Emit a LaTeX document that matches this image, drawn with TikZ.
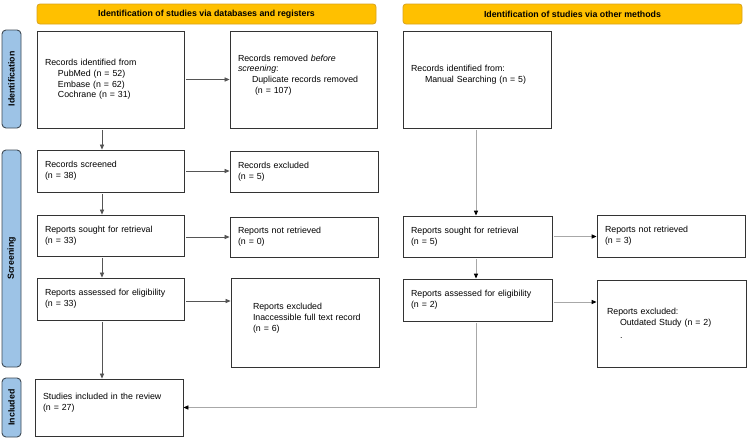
\documentclass[tikz,border=0pt]{standalone}
\usepackage{fontspec}
\setmainfont{Liberation Sans}
\usetikzlibrary{arrows.meta}
\definecolor{hdr}{HTML}{FFC000}
\definecolor{hdrb}{HTML}{D9A21B}
\definecolor{side}{HTML}{9DC3E6}
\definecolor{sideb}{HTML}{3F4A55}
\definecolor{boxb}{HTML}{333333}
\definecolor{lineA}{HTML}{555555}
\definecolor{lineB}{HTML}{A8A8A8}
\begin{document}
\begin{tikzpicture}[x=1pt,y=-1pt,
  font=\fontsize{8.8}{10.7}\selectfont,
  pbox/.style={draw=boxb, line width=0.9pt, fill=white, inner xsep=8pt, inner ysep=0pt, align=left, anchor=center},
  hdrbox/.style={draw=hdrb, line width=0.8pt, fill=hdr, rounded corners=3pt, font=\fontsize{8.8}{10.7}\selectfont\bfseries, inner sep=0pt, minimum width=339pt, minimum height=20pt},
  sidebox/.style={draw=sideb, line width=0.9pt, fill=side, rounded corners=4pt, font=\fontsize{8.8}{10.7}\selectfont\bfseries, inner sep=0pt, rotate=90, minimum height=19pt},
  arrA/.style={draw=lineA, line width=0.7pt, -{Triangle[length=5pt,width=4.2pt]}, shorten <=1.5pt},
  arrB/.style={draw=lineB, line width=0.9pt, -{Triangle[length=5pt,width=4.2pt,color=black,fill=black]}, shorten <=1.5pt}
]
\useasboundingbox (0,0) rectangle (750,439);
\fill[white] (0,0) rectangle (750,439);

% headers
\node[hdrbox] (HL) at (206.5,14) {Identification of studies via databases and registers};
\node[hdrbox] (HR) at (572.5,14) {Identification of studies via other methods};

% side bars
\node[sidebox, minimum width=98pt] (S1) at (11.5,79) {Identification};
\node[sidebox, minimum width=217pt] (S2) at (11.5,258.5) {Screening};
\node[sidebox, minimum width=59pt] (S3) at (11.5,407.5) {Included};

% left column
\node[pbox, minimum width=147pt, minimum height=97pt, text width=131pt] (A) at (110.5,79.5)
  {Records identified from\\\hspace*{13pt}PubMed (n = 52)\\\hspace*{13pt}Embase (n = 62)\\\hspace*{13pt}Cochrane (n = 31)};
\node[pbox, minimum width=147pt, minimum height=97pt, text width=131pt] (B) at (303.5,79.5)
  {Records removed \textit{before}\\\textit{screening}:\\\hspace*{14pt}Duplicate records removed\\\hspace*{17pt}(n = 107)\\\mbox{}};
\node[pbox, minimum width=147pt, minimum height=42pt, text width=131pt] (C) at (110.5,171)
  {Records screened\\(n = 38)};
\node[pbox, minimum width=148pt, minimum height=41pt, text width=132pt] (D) at (304,171.5)
  {Records excluded\\(n = 5)};
\node[pbox, minimum width=147pt, minimum height=41pt, text width=131pt] (E) at (110.5,235.5)
  {Reports sought for retrieval\\(n = 33)};
\node[pbox, minimum width=148pt, minimum height=40pt, text width=132pt] (F) at (304,237)
  {Reports not retrieved\\(n = 0)};
\node[pbox, minimum width=147pt, minimum height=42pt, text width=131pt] (G) at (110.5,299)
  {Reports assessed for eligibility\\(n = 33)};
\node[pbox, minimum width=148pt, minimum height=89pt, text width=132pt] (H) at (305,322.5)
  {\hspace*{14pt}Reports excluded\\\hspace*{14pt}Inaccessible full text record\\\hspace*{14pt}(n = 6)\\\mbox{}};
\node[pbox, minimum width=148pt, minimum height=57pt, text width=132pt] (I) at (109,407.5)
  {Studies included in the review\\(n = 27)\\\mbox{}};

% right column
\node[pbox, minimum width=148pt, minimum height=97pt, text width=132pt] (J) at (477,79.5)
  {Records identified from:\\\hspace*{14pt}Manual Searching (n = 5)\\\mbox{}};
\node[pbox, minimum width=149pt, minimum height=41pt, text width=133pt] (K) at (477.5,236.5)
  {Reports sought for retrieval\\(n = 5)};
\node[pbox, minimum width=148pt, minimum height=42pt, text width=132pt] (L) at (671,236)
  {Reports not retrieved\\(n = 3)};
\node[pbox, minimum width=149pt, minimum height=42pt, text width=133pt] (M) at (477.5,300)
  {Reports assessed for eligibility\\(n = 2)};
\node[pbox, minimum width=149pt, minimum height=87pt, inner xsep=10pt, text width=129pt] (N) at (671.5,323.5)
  {Reports excluded:\\\hspace*{13pt}Outdated Study (n = 2)\\\hspace*{13pt}\raisebox{-2pt}{.}};

\coordinate (colL) at (102,0);
\coordinate (colR) at (476,0);

% vertical arrows left
\draw[arrA] (A.south -| colL) -- (C.north -| colL);
\draw[arrA] (C.south -| colL) -- (E.north -| colL);
\draw[arrA] (E.south -| colL) -- (G.north -| colL);
\draw[arrA] (G.south -| colL) -- (I.north -| colL);
% horizontal arrows left
\draw[arrA] (A.east) -- (A.east -| B.west);
\draw[arrA] (C.east) -- (C.east -| D.west);
\draw[arrA] ([yshift=-1.5pt]E.east) -- ([yshift=-1.5pt]E.east -| F.west);
\draw[arrA] ([yshift=-2pt]G.east) -- ([yshift=-2pt]G.east -| H.west);
% right column arrows
\draw[arrB] (J.south -| colR) -- (K.north -| colR);
\draw[arrB] (K.south -| colR) -- (M.north -| colR);
\draw[arrB] (K.east) -- (K.east -| L.west);
\draw[arrB] ([yshift=-2pt]M.east) -- ([yshift=-2pt]M.east -| N.west);
\draw[arrB] (M.south -| colR) |- (I.east);
\end{tikzpicture}
\end{document}
